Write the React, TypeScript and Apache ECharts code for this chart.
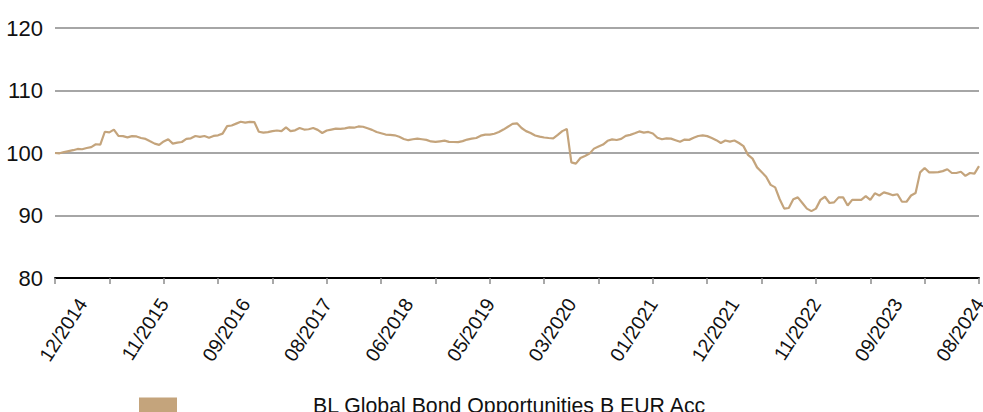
import React, { useEffect, useRef } from "react";
import * as echarts from "echarts";

const seriesName = "BL Global Bond Opportunities B EUR Acc";

const tickLabels = [
  "12/2014", "11/2015", "09/2016", "08/2017", "06/2018", "05/2019",
  "03/2020", "01/2021", "12/2021", "11/2022", "09/2023", "08/2024",
];

const yTicks = [80, 90, 100, 110, 120];

const values = [
  100.0, 99.95, 100.15, 100.3, 100.45, 100.65, 100.6, 100.8, 100.95, 101.4,
  101.35, 103.4, 103.3, 103.75, 102.75, 102.7, 102.5, 102.7, 102.65, 102.4,
  102.25, 101.87, 101.5, 101.3, 101.85, 102.2, 101.5, 101.65, 101.76, 102.25,
  102.35, 102.72, 102.57, 102.72, 102.45, 102.73, 102.83, 103.1, 104.3, 104.4,
  104.7, 105.0, 104.85, 104.97, 104.95, 103.4, 103.26, 103.35, 103.5, 103.6,
  103.5, 104.1, 103.5, 103.63, 104.0, 103.75, 103.8, 104.0, 103.7, 103.2,
  103.6, 103.75, 103.9, 103.85, 103.95, 104.1, 104.05, 104.25, 104.2, 103.95,
  103.7, 103.35, 103.15, 102.95, 102.9, 102.83, 102.6, 102.25, 102.05, 102.2,
  102.3, 102.2, 102.1, 101.85, 101.77, 101.87, 101.97, 101.78, 101.76, 101.75,
  101.9, 102.15, 102.3, 102.4, 102.77, 102.94, 102.94, 103.08, 103.35, 103.75,
  104.2, 104.65, 104.75, 104.0, 103.5, 103.2, 102.8, 102.62, 102.48, 102.4,
  102.35, 102.9, 103.5, 103.85, 98.5, 98.3, 99.2, 99.52, 99.9, 100.7,
  101.05, 101.35, 101.95, 102.18, 102.08, 102.25, 102.75, 102.9, 103.15, 103.45,
  103.27, 103.37, 103.12, 102.45, 102.2, 102.35, 102.3, 102.05, 101.8, 102.15,
  102.1, 102.43, 102.72, 102.82, 102.7, 102.4, 102.05, 101.6, 102.0, 101.82,
  102.0, 101.6, 101.1, 99.7, 99.1, 97.7, 96.96, 96.2, 94.9, 94.5,
  92.6, 91.1, 91.2, 92.6, 92.9, 92.0, 91.1, 90.7, 91.1, 92.5,
  93.0, 92.0, 92.1, 92.9, 92.9, 91.6, 92.5, 92.5, 92.5, 93.1,
  92.5, 93.55, 93.2, 93.7, 93.5, 93.25, 93.4, 92.2, 92.2, 93.2,
  93.6, 96.9, 97.6, 96.9, 96.9, 96.95, 97.1, 97.4, 96.8, 96.8,
  97.0, 96.35, 96.8, 96.7, 97.9,
];

const categories = values.map((_, i) => String(i));

const TICK_EVERY = 12;
const LABEL_OFFSET = 6;
const LABEL_EVERY = 18;

const FONT = 'Arial, "Liberation Sans", sans-serif';
const LINE_COLOR = "#c4a47c";

export default function App() {
  const ref = useRef<HTMLDivElement>(null);

  useEffect(() => {
    if (!ref.current) return;
    const chart = echarts.init(ref.current, undefined, { renderer: "svg" });
    chart.setOption({
      animation: false,
      backgroundColor: "#ffffff",
      grid: {
        left: 55,
        right: 4,
        top: 28,
        bottom: 134,
        containLabel: false,
        outerBoundsMode: "none",
      },
      legend: {
        show: true,
        left: 139,
        top: 395,
        padding: 0,
        itemWidth: 38,
        itemHeight: 16,
        icon: "rect",
        data: [{ name: seriesName, icon: "rect" }],
        textStyle: {
          fontFamily: FONT,
          fontSize: 21.3,
          lineHeight: 17,
          color: "#111",
          padding: [0, 0, 0, 131],
        },
      },
      xAxis: {
        type: "category",
        data: categories,
        boundaryGap: false,
        axisLine: { show: true, lineStyle: { color: "#000", width: 2 } },
        axisTick: {
          show: true,
          interval: (i: number) => i % TICK_EVERY === 0,
          length: 6,
          lineStyle: { color: "#8c8c8c", width: 1.5 },
        },
        axisLabel: {
          interval: (i: number) => i >= LABEL_OFFSET && (i - LABEL_OFFSET) % LABEL_EVERY === 0,
          formatter: (_v: string, i: number) => tickLabels[(i - LABEL_OFFSET) / LABEL_EVERY] ?? "",
          rotate: 57,
          margin: 22,
          fontFamily: FONT,
          fontSize: 19.5,
          color: "#111",
        },
        splitLine: { show: false },
      },
      yAxis: {
        type: "value",
        min: yTicks[0],
        max: yTicks[yTicks.length - 1],
        interval: 10,
        axisLine: { show: false },
        axisTick: { show: false },
        axisLabel: {
          margin: 12,
          fontFamily: FONT,
          fontSize: 22,
          color: "#111",
        },
        splitLine: { show: true, lineStyle: { color: "#a6a6a6", width: 2 } },
      },
      series: [
        {
          name: seriesName,
          type: "line",
          data: values,
          symbol: "none",
          showSymbol: false,
          color: LINE_COLOR,
          lineStyle: { color: LINE_COLOR, width: 2.2 },
          itemStyle: { color: LINE_COLOR },
        },
      ],
    });
    return () => chart.dispose();
  }, []);

  return (
    <div
      ref={ref}
      style={{ position: "fixed", left: 0, top: 0, width: 983, height: 412, background: "#fff" }}
    />
  );
}
